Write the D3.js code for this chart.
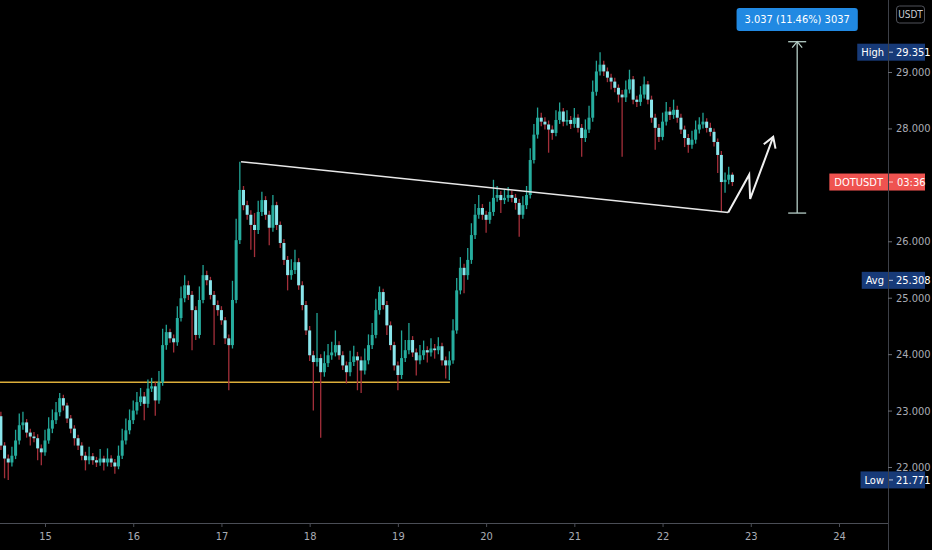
<!DOCTYPE html>
<html>
<head>
<meta charset="utf-8">
<script src="https://cdn.jsdelivr.net/npm/d3@7"></script>
<style>
html, body { margin: 0; background: #000; overflow: hidden; }
</style>
</head>
<body>
<svg id="chart"></svg>
<script>
// Hourly DOTUSDT candles, the first one opens on day 14 at 12:00
var startDay = 14.5;
var firstOpen = 22.90;
var closes = [
    22.38, 22.15, 22.08, 22.20, 22.47, 22.74, 22.79, 22.61, 22.54, 22.51,
    22.33, 22.26, 22.47, 22.68, 22.83, 22.97, 23.22, 23.09, 22.86, 22.68,
    22.51, 22.38, 22.20, 22.12, 22.19, 22.12, 22.08, 22.15, 22.08, 22.15,
    22.08, 22.01, 22.20, 22.47, 22.65, 22.83, 23.00, 23.15, 23.25, 23.12,
    23.39, 23.43, 23.18, 23.50, 24.16, 24.39, 24.28, 24.21, 24.64, 24.99,
    25.22, 25.05, 24.78, 24.34, 24.96, 25.40, 25.31, 25.05, 24.87, 24.78,
    24.60, 24.28, 24.16, 24.96, 26.02, 26.91, 26.64, 26.47, 26.29, 26.20,
    26.52, 26.73, 26.47, 26.24, 26.64, 26.29, 25.97, 25.67, 25.40, 25.49,
    25.63, 25.22, 24.87, 24.42, 23.98, 23.86, 23.93, 23.68, 23.84, 23.98,
    24.03, 24.16, 23.98, 23.80, 23.68, 23.86, 23.96, 23.89, 23.71, 23.89,
    24.16, 24.34, 24.78, 25.10, 24.87, 24.51, 24.16, 23.80, 23.63, 23.93,
    24.07, 24.25, 24.03, 23.89, 23.98, 24.07, 24.03, 24.10, 24.07, 24.14,
    23.89, 23.80, 23.89, 24.42, 25.13, 25.53, 25.40, 25.67, 26.11, 26.47,
    26.59, 26.47, 26.38, 26.52, 26.77, 26.82, 26.73, 26.77, 26.82, 26.77,
    26.68, 26.47, 26.64, 26.82, 27.44, 27.89, 28.19, 28.12, 28.07, 27.98,
    27.92, 28.15, 28.30, 28.12, 28.15, 28.08, 28.19, 28.01, 27.83, 27.98,
    28.19, 28.65, 29.01, 29.13, 29.01, 28.90, 28.83, 28.72, 28.60, 28.55,
    28.69, 28.87, 28.51, 28.47, 28.60, 28.78, 28.51, 28.19, 28.01, 27.85,
    28.12, 28.30, 28.24, 28.33, 28.19, 27.98, 27.83, 27.71, 27.80, 27.98,
    28.07, 28.12, 28.01, 27.94, 27.76, 27.53, 27.05, 27.09, 27.18, 27.05
];
var highs = [
    22.98, 22.44, 22.22, 22.36, 22.66, 22.95, 22.98, 22.85, 22.68, 22.62,
    22.58, 22.40, 22.66, 22.88, 23.02, 23.15, 23.31, 23.28, 23.14, 22.92,
    22.74, 22.57, 22.44, 22.27, 22.36, 22.25, 22.18, 22.32, 22.20, 22.33,
    22.21, 22.14, 22.38, 22.68, 22.86, 23.02, 23.18, 23.33, 23.40, 23.33,
    23.55, 23.58, 23.50, 23.70, 24.45, 24.52, 24.45, 24.35, 24.85, 25.20,
    25.40, 25.30, 25.12, 24.85, 25.20, 25.58, 25.48, 25.37, 25.12, 24.95,
    24.85, 24.66, 24.35, 25.30, 26.40, 27.41, 26.98, 26.72, 26.55, 26.50,
    26.72, 26.88, 26.80, 26.54, 26.82, 26.70, 26.35, 26.04, 25.74, 25.68,
    25.85, 25.70, 25.29, 24.94, 24.50, 24.06, 24.73, 24.00, 24.05, 24.18,
    24.22, 24.42, 24.23, 24.05, 23.87, 24.06, 24.15, 24.04, 23.96, 24.10,
    24.35, 24.55, 24.98, 25.20, 25.16, 24.94, 24.58, 24.22, 23.87, 24.42,
    24.25, 24.55, 24.32, 24.10, 24.16, 24.24, 24.14, 24.28, 24.18, 24.30,
    24.20, 23.96, 24.05, 24.62, 25.35, 25.72, 25.60, 25.88, 26.32, 26.66,
    26.82, 26.66, 26.54, 26.70, 27.09, 26.98, 26.89, 26.92, 26.96, 26.90,
    26.84, 26.75, 26.80, 26.98, 27.65, 28.08, 28.37, 28.28, 28.20, 28.14,
    28.05, 28.32, 28.46, 28.36, 28.32, 28.22, 28.36, 28.25, 28.08, 28.16,
    28.40, 28.85, 29.20, 29.351, 29.20, 29.08, 28.97, 28.90, 28.78, 28.68,
    28.85, 29.04, 28.93, 28.58, 28.75, 28.92, 28.84, 28.58, 28.26, 28.08,
    28.28, 28.47, 28.38, 28.51, 28.40, 28.26, 28.05, 27.90, 27.96, 28.14,
    28.20, 28.28, 28.18, 28.10, 28.00, 27.82, 27.60, 27.22, 27.32, 27.22
];
var lows = [
    22.30, 21.80, 21.771, 22.01, 22.14, 22.40, 22.66, 22.52, 22.38, 22.44,
    22.12, 22.03, 22.20, 22.41, 22.60, 22.76, 22.90, 23.00, 22.78, 22.60,
    22.38, 22.30, 22.12, 21.94, 22.05, 22.04, 22.00, 22.02, 21.94, 22.01,
    22.00, 21.88, 21.96, 22.14, 22.40, 22.58, 22.76, 22.93, 23.08, 22.83,
    23.05, 23.33, 22.91, 23.12, 23.44, 24.08, 24.20, 24.03, 24.15, 24.58,
    24.92, 24.96, 24.07, 24.25, 24.28, 24.90, 25.22, 24.97, 24.16, 24.68,
    24.52, 24.18, 23.36, 24.10, 24.90, 25.95, 26.55, 26.38, 25.85, 25.72,
    26.13, 26.45, 26.38, 25.93, 26.17, 26.20, 25.88, 25.58, 25.13, 25.32,
    25.42, 25.14, 24.78, 24.34, 23.88, 23.00, 23.78, 22.52, 23.60, 23.77,
    23.90, 23.96, 23.90, 23.72, 23.48, 23.61, 23.79, 23.36, 23.31, 23.64,
    23.82, 24.09, 24.28, 24.70, 24.79, 24.34, 24.07, 23.71, 23.36, 23.56,
    23.86, 24.00, 23.95, 23.62, 23.82, 23.90, 23.85, 23.96, 23.92, 24.00,
    23.80, 23.57, 23.54, 23.83, 24.36, 25.06, 25.08, 25.32, 25.60, 26.04,
    26.40, 26.38, 26.15, 26.31, 26.45, 26.70, 26.50, 26.66, 26.70, 26.69,
    26.56, 26.08, 26.40, 26.57, 26.76, 27.38, 27.82, 28.04, 27.98, 27.57,
    27.80, 27.86, 28.08, 28.04, 28.05, 27.99, 28.01, 27.93, 27.50, 27.76,
    27.92, 28.12, 28.58, 28.94, 28.93, 28.82, 28.69, 28.64, 28.46, 27.50,
    28.47, 28.62, 28.43, 28.38, 28.40, 28.53, 28.43, 28.10, 27.62, 27.76,
    27.79, 28.05, 28.15, 28.17, 28.10, 27.90, 27.67, 27.57, 27.64, 27.73,
    27.91, 28.00, 27.93, 27.86, 27.68, 27.21, 26.53, 26.86, 27.01, 26.98
];

// Axis ticks (27.000 sits under the last price label)
var dayTicks = [15, 16, 17, 18, 19, 20, 21, 22, 23, 24];
var priceTicks = [22, 23, 24, 25, 26, 28, 29];

// Price scale markers
var statNames = ["High", "Avg", "Low"];
var statValues = [29.351, 25.308, 21.771];
var symbolName = "DOTUSDT";
var countdown = "03:36";
var lastPrice = 27.05;
var currency = "USDT";

// Drawings (day, price)
var supportDays = [14.45, 19.59];
var supportPrice = 23.50;
var trendDays = [17.222, 22.744];
var trendPrices = [27.41, 26.51];
var arrowDays = [22.744, 22.982, 22.993, 23.254];
var arrowPrices = [26.51, 27.18, 26.75, 27.85];
var measureDay = 23.526;
var measurePrices = [26.50, 29.537];
var measureText = "3.037 (11.46%) 3037";

/*
 * Layout of the screenshot
 */
const dims = {
    width: 932,
    height: 550,
    axisX: 888,
    axisY: 523
};

const font = "'Liberation Sans Narrow', 'DejaVu Sans Condensed', Roboto, sans-serif";

function chart() {
    const svg = d3.select("#chart")
        .attr("width", dims.width)
        .attr("height", dims.height)
        .style("background", "#000")
        .style("display", "block");

    let x = d3.scaleLinear().domain([15, 24]).range([45, 839]);
    let y = d3.scaleLinear().domain([22, 29]).range([467, 72]);

    // build candles, open = previous close
    const candles = closes.map((c, i) => ({
        t: startDay + i / 24,
        o: i === 0 ? firstOpen : closes[i - 1],
        h: highs[i],
        l: lows[i],
        c: c
    }));

    svg.append("clipPath").attr("id", "plot")
        .append("rect").attr("width", dims.axisX).attr("height", dims.axisY);

    const plot = svg.append("g").attr("clip-path", "url(#plot)");

    // support line
    plot.append("line")
        .attr("x1", x(supportDays[0])).attr("x2", x(supportDays[1]))
        .attr("y1", y(supportPrice)).attr("y2", y(supportPrice))
        .attr("stroke", "#dcae3a")
        .attr("stroke-width", 1.5);

    // candles
    const g = plot.selectAll("g.candle")
        .data(candles)
        .join("g")
        .attr("class", "candle");

    g.append("line")
        .attr("x1", d => x(d.t)).attr("x2", d => x(d.t))
        .attr("y1", d => y(d.h)).attr("y2", d => y(d.l))
        .attr("stroke", d => d.c >= d.o ? "#22a597" : "#a32f3a")
        .attr("stroke-width", 1.3);

    g.append("rect")
        .attr("x", d => x(d.t) - 1.5)
        .attr("width", 3)
        .attr("y", d => y(Math.max(d.o, d.c)))
        .attr("height", d => Math.max(1.5, Math.abs(y(d.o) - y(d.c))))
        .attr("fill", d => d.c >= d.o ? "#26ad9e" : "#8ae6ec");

    // trend line
    plot.append("line")
        .attr("x1", x(trendDays[0])).attr("y1", y(trendPrices[0]))
        .attr("x2", x(trendDays[1])).attr("y2", y(trendPrices[1]))
        .attr("stroke", "#e8e8e8")
        .attr("stroke-width", 1.5);

    // zigzag arrow
    const pts = arrowDays.map((d, i) => [x(d), y(arrowPrices[i])]);
    plot.append("path")
        .attr("d", d3.line()(pts))
        .attr("fill", "none")
        .attr("stroke", "#f0f0f0")
        .attr("stroke-width", 2)
        .attr("stroke-linejoin", "miter");

    const tip = pts[pts.length - 1], prev = pts[pts.length - 2];
    const ang = Math.atan2(tip[1] - prev[1], tip[0] - prev[0]);
    const wing = a => [tip[0] - 12 * Math.cos(ang + a), tip[1] - 12 * Math.sin(ang + a)];
    plot.append("path")
        .attr("d", d3.line()([wing(0.55), tip, wing(-0.55)]))
        .attr("fill", "none")
        .attr("stroke", "#f0f0f0")
        .attr("stroke-width", 2);

    // measure tool
    const mx = x(measureDay);
    const mTop = y(measurePrices[1]), mBot = y(measurePrices[0]);
    const mg = plot.append("g").attr("stroke", "#b5cdc6").attr("stroke-width", 1.3).attr("fill", "none");
    mg.append("line").attr("x1", mx).attr("x2", mx).attr("y1", mTop).attr("y2", mBot);
    mg.append("line").attr("x1", mx - 9).attr("x2", mx + 9).attr("y1", mTop).attr("y2", mTop);
    mg.append("line").attr("x1", mx - 9).attr("x2", mx + 9).attr("y1", mBot).attr("y2", mBot);
    mg.append("path").attr("d", d3.line()([[mx - 5, mTop + 6], [mx, mTop], [mx + 5, mTop + 6]]));

    const mLabel = svg.append("g").attr("transform", `translate(${mx}, 19.5)`);
    mLabel.append("text")
        .attr("text-anchor", "middle").attr("dy", "0.35em")
        .attr("fill", "#fff")
        .style("font-family", font).style("font-size", "11px")
        .text(measureText)
        .each(function () {
            const w = Math.max(98, this.getComputedTextLength() + 16);
            d3.select(this.parentNode).insert("rect", "text")
                .attr("x", -w / 2).attr("y", -11.5).attr("width", w).attr("height", 23)
                .attr("rx", 3)
                .attr("fill", "#2189e2");
        });

    // bottom axis
    svg.append("line")
        .attr("x1", 0).attr("x2", dims.axisX)
        .attr("y1", dims.axisY + 0.5).attr("y2", dims.axisY + 0.5)
        .attr("stroke", "#4a4d55");

    svg.append("g")
        .attr("transform", `translate(0, ${dims.axisY})`)
        .call(d3.axisBottom(x).tickValues(dayTicks).tickSize(4).tickPadding(5).tickFormat(d3.format("d")))
        .call(g => g.select(".domain").remove())
        .call(g => g.selectAll("line").attr("stroke", "#4a4d55"))
        .call(g => g.selectAll("text").attr("fill", "#a9acb5")
            .style("font-family", font).style("font-size", "11px"));

    // right axis
    svg.append("line")
        .attr("x1", dims.axisX + 0.5).attr("x2", dims.axisX + 0.5)
        .attr("y1", 0).attr("y2", dims.height)
        .attr("stroke", "#3d4048");

    svg.append("g")
        .attr("transform", `translate(${dims.axisX}, 0)`)
        .call(d3.axisRight(y).tickValues(priceTicks).tickSize(4).tickPadding(4).tickFormat(d3.format(".3f")))
        .call(g => g.select(".domain").remove())
        .call(g => g.selectAll("line").attr("stroke", "#6a6d75"))
        .call(g => g.selectAll("text").attr("fill", "#a9acb5")
            .style("font-family", font).style("font-size", "11px"));

    // USDT box
    const cur = svg.append("g").attr("transform", "translate(910.5, 14.5)");
    cur.append("rect")
        .attr("x", -14).attr("y", -8.5).attr("width", 28).attr("height", 17)
        .attr("rx", 3)
        .attr("fill", "#000").attr("stroke", "#50535b");
    cur.append("text")
        .attr("text-anchor", "middle").attr("dy", "0.35em")
        .attr("fill", "#c8cad0")
        .style("font-family", font).style("font-size", "10px")
        .text(currency);

    // High / Avg / Low markers
    const stat = svg.selectAll("g.stat")
        .data(statNames.map((n, i) => ({ name: n, value: statValues[i] })))
        .join("g")
        .attr("class", "stat")
        .attr("transform", d => `translate(0, ${y(d.value)})`);

    stat.append("rect")
        .attr("x", dims.axisX + 1).attr("y", -8.5).attr("width", 36).attr("height", 17)
        .attr("fill", "#173a78");
    stat.append("line")
        .attr("x1", dims.axisX + 1).attr("x2", dims.axisX + 5)
        .attr("stroke", "#c0c8de");
    stat.append("text")
        .attr("x", dims.axisX + 8).attr("dy", "0.35em")
        .attr("fill", "#fff")
        .style("font-family", font).style("font-size", "11px")
        .text(d => d3.format(".3f")(d.value));
    stat.append("text")
        .attr("x", dims.axisX - 4).attr("dy", "0.35em")
        .attr("text-anchor", "end")
        .attr("fill", "#fff")
        .style("font-family", font).style("font-size", "11px")
        .text(d => d.name)
        .each(function () {
            const w = this.getComputedTextLength();
            d3.select(this.parentNode).insert("rect", "text")
                .attr("x", dims.axisX - w - 8).attr("y", -8.5)
                .attr("width", w + 8).attr("height", 17)
                .attr("fill", "#173a78");
        });

    // last price marker
    const last = svg.append("g").attr("transform", `translate(0, ${y(lastPrice)})`);
    last.append("rect")
        .attr("x", dims.axisX + 1).attr("y", -8.5).attr("width", 36).attr("height", 17)
        .attr("fill", "#ef5350");
    last.append("line")
        .attr("x1", dims.axisX + 1).attr("x2", dims.axisX + 5)
        .attr("stroke", "#ffd6d5");
    last.append("text")
        .attr("x", dims.axisX + 9).attr("dy", "0.35em")
        .attr("fill", "#fff")
        .style("font-family", font).style("font-size", "11px")
        .text(countdown);
    last.append("text")
        .attr("x", dims.axisX - 5).attr("dy", "0.35em")
        .attr("text-anchor", "end")
        .attr("fill", "#fff")
        .style("font-family", font).style("font-size", "11px")
        .text(symbolName)
        .each(function () {
            const w = this.getComputedTextLength();
            d3.select(this.parentNode).insert("rect", "text")
                .attr("x", dims.axisX - w - 10).attr("y", -8.5)
                .attr("width", w + 10).attr("height", 17)
                .attr("fill", "#ef5350");
        });
}

chart();
</script>
</body>
</html>
